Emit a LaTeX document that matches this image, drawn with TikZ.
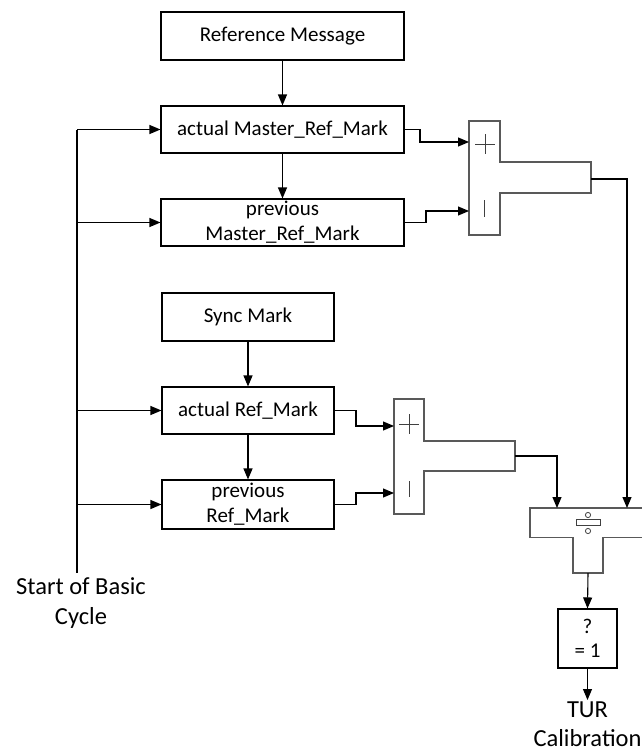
\documentclass[tikz,border=0pt]{standalone}
\usepackage{fontspec}
\setmainfont{Carlito}
\usetikzlibrary{arrows.meta}
\begin{document}
\begin{tikzpicture}[x=1pt,y=-1pt,
  line width=1.1pt,
  arr/.style={-{Triangle[length=11pt,width=9pt]}},
  box/.style={draw,rectangle,inner sep=0pt,align=center,font=\fontsize{21}{25}\selectfont},
  blk/.style={draw=black!65,line width=1.1pt},
  sym/.style={draw=black!75,line width=0.9pt},
  lbl/.style={inner sep=0pt,align=center,font=\fontsize{24.5}{30}\selectfont}]
\useasboundingbox (0,0) rectangle (642,755);
\clip (0,0) rectangle (642,755);
% boxes
\node[box,minimum width=243pt,minimum height=48pt] (refmsg) at (282.5,36) {Reference Message};
\node[box,minimum width=243pt,minimum height=47pt] (amrm) at (282.5,129.5) {actual Master\_Ref\_Mark};
\node[box,minimum width=243pt,minimum height=47pt] (pmrm) at (282.5,222.5) {previous\\Master\_Ref\_Mark};
\node[box,minimum width=172pt,minimum height=48pt] (sync) at (248,317) {Sync Mark};
\node[box,minimum width=172pt,minimum height=47pt] (arm) at (248,410.5) {actual Ref\_Mark};
\node[box,minimum width=172pt,minimum height=49pt] (prm) at (248,504.5) {previous\\Ref\_Mark};
\node[box,minimum width=59pt,minimum height=59pt,font=\fontsize{21}{24}\selectfont] (cmp) at (587.5,638.5) {?\\= 1};
% vertical arrows
\draw[arr] (refmsg) -- (amrm);
\draw[arr] (amrm) -- (pmrm);
\draw[arr] (sync) -- (arm);
\draw[arr] (arm) -- (prm);
% start line
\coordinate (lt) at (77,129.5);
\coordinate (lb) at (77,573);
\node[lbl,anchor=north] (start) at (81,577) {Start of Basic\\Cycle};
\draw (lt) -- (lb);
\draw[arr] (lt) -- (amrm.west);
\draw[arr] (77,222.5) -- (pmrm.west);
\draw[arr] (77,410.5) -- (arm.west);
\draw[arr] (77,504.5) -- (prm.west);
% subtractor 1
\draw[blk] (469,121) -- (500,121) -- (500,162) -- (591,162) -- (591,193) -- (500,193) -- (500,235) -- (469,235) -- cycle;
\coordinate (s1a) at (469,142);
\coordinate (s1b) at (469,211);
\coordinate (s1o) at (591,179);
\draw[sym] (475,144) -- (495,144) (485,134) -- (485,154);
\draw[sym] (484,200) -- (484,217);
% subtractor 2
\draw[blk] (394,399) -- (424,399) -- (424,441) -- (515,441) -- (515,471) -- (424,471) -- (424,514) -- (394,514) -- cycle;
\coordinate (s2a) at (394,426);
\coordinate (s2b) at (394,493);
\coordinate (s2o) at (515,456);
\draw[sym] (399,424) -- (419,424) (409,414) -- (409,434);
\draw[sym] (409,481) -- (409,497);
% divider
\draw[blk] (645,508) -- (530,508) -- (530,537.5) -- (573,537.5) -- (573,573) -- (603,573) -- (603,537.5) -- (645,537.5);
\coordinate (dva) at (557,508);
\coordinate (dvb) at (627,508);
\coordinate (dvo) at (588,573);
\draw[sym,line width=0.8pt] (588,515) circle (2.6);
\draw[sym,line width=0.8pt] (588,531) circle (2.6);
\draw[sym,line width=0.8pt] (576,519.5) rectangle (600,525.5);
% connectors to subtractors
\draw[arr] (amrm.east) -- (420,129.5) -- (420,142) -- (s1a);
\draw[arr] (pmrm.east) -- (426,222.5) -- (426,211) -- (s1b);
\draw[arr] (arm.east) -- (356,410.5) -- (356,426) -- (s2a);
\draw[arr] (prm.east) -- (356,504.5) -- (356,493) -- (s2b);
% to divider
\draw[arr] (s1o) -- (627,179) -- (dvb);
\draw[arr] (s2o) -- (557,456) -- (dva);
\draw[arr] (dvo) -- (cmp.north);
% output
\coordinate (outend) at (587.5,700);
\draw[arr] (cmp.south) -- (outend);
\node[lbl,anchor=north] (tur) at (587.5,701) {TUR};
\node[lbl,anchor=north] (cal) at (587.5,729) {Calibration};
\end{tikzpicture}
\end{document}
